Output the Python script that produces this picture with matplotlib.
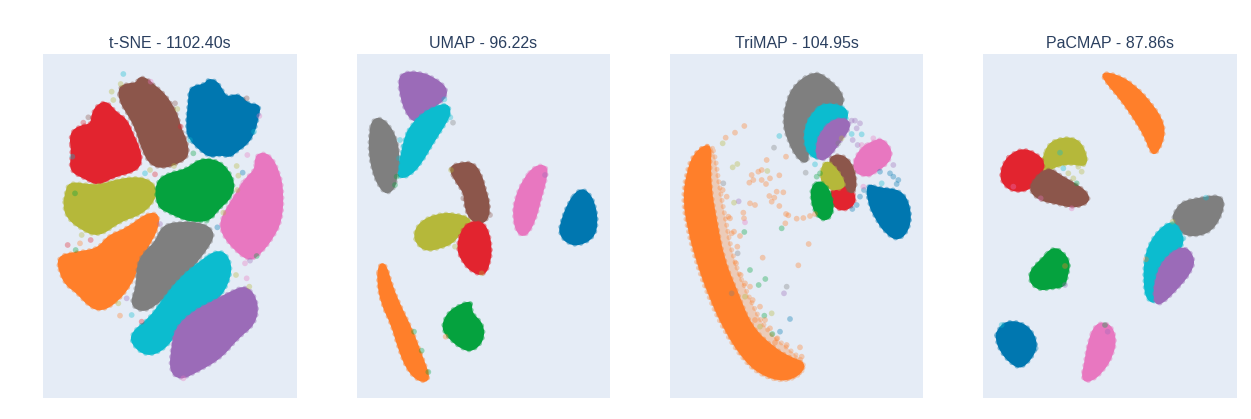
import matplotlib
matplotlib.use("Agg")
import matplotlib.pyplot as plt
from matplotlib.path import Path
from matplotlib.patches import PathPatch

W, H = 1251, 419
BG = "#E5ECF6"
TITLE = "#2a3f5f"
BLUE, ORANGE, GREEN, RED, PURPLE = "#0077b0", "#ff7f2a", "#05a23e", "#e2242f", "#9b6bb8"
BROWN, PINK, GRAY, OLIVE, CYAN = "#8c564b", "#e877c0", "#7f7f7f", "#b5b83a", "#0cbccf"

titles = ["t-SNE - 1102.40s", "UMAP - 96.22s", "TriMAP - 104.95s", "PaCMAP - 87.86s"]

# Cluster outlines
tsne_blue = [(470,290),(478,215),(480,172),(525,165),(535,148),(560,155),(575,180),(590,205),(625,192),(655,225),(690,225),(682,265),(672,305),(652,340),(620,362),(600,380),(570,372),(540,380),(510,358),(478,325)]
tsne_brown = [(268,172),(295,162),(320,162),(328,142),(352,148),(372,168),(398,188),(425,225),(442,260),(452,300),(468,330),(475,378),(445,398),(400,413),(362,403),(338,358),(318,292),(292,247),(270,212)]
tsne_red = [(120,312),(150,288),(185,285),(188,248),(208,222),(232,217),(258,250),(288,268),(308,315),(328,358),(334,398),(312,424),(250,438),(205,465),(165,444),(120,422),(128,370)]
tsne_olive = [(108,490),(118,458),(170,465),(210,468),(270,448),(340,443),(378,470),(372,512),(332,552),(270,572),(205,620),(150,594),(112,562),(102,525)]
tsne_green = [(378,460),(410,433),(470,420),(510,388),(560,392),(592,418),(612,460),(603,502),(562,538),(540,570),(480,574),(420,548),(382,528)]
tsne_pink = [(678,372),(718,372),(748,430),(758,490),(753,572),(728,622),(692,668),(660,692),(618,662),(577,612),(572,570),(608,510),(648,445),(678,420)]
tsne_orange = [(82,680),(140,668),(205,658),(235,618),(290,598),(350,552),(386,552),(381,600),(347,657),(322,712),(302,762),(262,813),(215,842),(178,828),(138,783),(112,767),(92,732)]
tsne_gray = [(398,588),(450,577),(522,582),(553,610),(533,652),(492,702),(462,748),(422,783),(372,828),(335,844),(302,822),(322,770),(322,710),(342,668),(378,638)]
tsne_cyan = [(570,656),(604,698),(594,762),(553,818),(492,863),(442,903),(402,958),(350,978),(306,942),(306,908),(358,868),(398,813),(448,748),(508,698)]
tsne_purple = [(602,787),(652,767),(684,820),(674,882),(622,923),(572,983),(502,1023),(450,1048),(421,1022),(426,960),(436,898),(488,847),(548,817)]

umap_purple = [(162,148),(178,128),(222,128),(262,142),(306,175),(298,207),(267,228),(232,268),(205,274),(182,242),(169,200)]
umap_cyan = [(203,283),(233,252),(270,232),(307,222),(316,250),(293,292),(263,337),(228,398),(197,433),(168,444),(156,427),(172,370),(182,318)]
umap_gray = [(83,272),(105,264),(133,288),(154,330),(161,380),(154,432),(149,472),(125,492),(102,467),(84,422),(74,365),(76,308)]
umap_brown = [(312,413),(345,400),(385,399),(409,438),(419,478),(432,520),(429,562),(412,579),(383,574),(361,537),(361,492),(336,457)]
umap_olive = [(208,610),(228,576),(275,554),(327,551),(384,570),(348,603),(323,638),(282,654),(245,661),(217,643)]
umap_red = [(357,587),(395,574),(423,587),(439,650),(432,702),(417,735),(383,726),(352,693),(336,650)]
umap_pink = [(572,408),(604,408),(604,442),(584,512),(569,572),(542,619),(517,608),(506,560),(511,508),(537,448)]
umap_blue = [(703,478),(728,486),(749,523),(756,582),(744,623),(702,645),(668,639),(646,613),(646,588),(671,518)]
umap_orange = [(104,702),(122,704),(139,768),(169,838),(199,898),(229,978),(256,1050),(223,1054),(187,1018),(161,952),(141,882),(111,822),(98,750)]
umap_green = [(343,826),(380,815),(376,848),(414,883),(414,932),(382,962),(353,956),(317,928),(291,895),(307,852)]

trimap_gray = [(465,125),(503,147),(545,188),(550,228),(500,244),(467,268),(444,312),(444,372),(440,400),(412,383),(386,332),(371,280),(381,213),(407,162)]
trimap_cyan = [(488,221),(559,231),(562,272),(522,299),(503,333),(482,390),(447,373),(433,330),(441,278),(462,248)]
trimap_purple = [(518,271),(558,266),(572,290),(533,343),(503,384),(472,390),(471,338),(487,303)]
trimap_pink = [(640,336),(667,326),(696,365),(684,398),(647,424),(625,439),(587,428),(581,395),(607,352)]
trimap_red = [(512,477),(556,466),(586,495),(579,528),(545,542),(517,523)]
trimap_brown = [(507,382),(547,374),(579,408),(589,470),(573,494),(549,453),(518,423)]
trimap_olive = [(492,393),(521,406),(559,466),(531,479),(503,474),(481,446)]
trimap_green = [(479,454),(503,472),(519,520),(514,558),(490,572),(465,548),(454,500),(458,468)]
trimap_blue = [(622,461),(652,476),(723,481),(749,530),(749,592),(716,632),(678,609),(647,563),(626,517)]
trimap_orange = [(150,340),(105,368),(82,430),(72,510),(87,600),(112,692),(147,792),(197,903),(257,993),(308,1034),(370,1052),(418,1034),(436,1000),(392,985),(340,955),(272,890),(232,790),(190,690),(165,560),(150,470),(150,390)]
trimap_orange_halo = [(150,340),(100,372),(78,430),(68,510),(83,600),(108,695),(143,795),(193,906),(255,996),(306,1037),(370,1054),(420,1036),(438,998),(370,945),(310,890),(262,790),(220,690),(195,560),(175,450),(165,370)]

pacmap_orange = [(394,128),(442,136),(493,167),(544,222),(580,278),(580,328),(556,374),(542,362),(526,318),(486,253),(446,198),(411,158)]
pacmap_olive = [(237,342),(275,324),(322,328),(347,368),(349,408),(310,399),(266,404),(236,419),(203,445),(221,383)]
pacmap_red = [(128,371),(160,358),(197,371),(224,398),(209,442),(177,479),(129,484),(96,457),(94,424),(106,393)]
pacmap_brown = [(207,432),(240,416),(267,436),(323,467),(354,493),(354,518),(311,532),(259,519),(208,509),(176,477)]
pacmap_gray = [(638,516),(690,506),(752,496),(762,530),(733,593),(691,616),(638,614),(608,566),(617,543)]
pacmap_cyan = [(598,576),(623,587),(644,640),(603,683),(578,748),(560,819),(532,809),(523,760),(526,678),(552,618)]
pacmap_purple = [(642,646),(672,684),(664,722),(623,773),(570,825),(552,812),(557,748),(582,688)]
pacmap_green = [(248,653),(278,666),(299,700),(289,742),(283,769),(240,774),(209,779),(181,757),(181,723),(218,687)]
pacmap_blue = [(82,903),(110,874),(162,881),(194,918),(199,962),(156,1016),(123,999),(92,963),(79,925)]
pacmap_pink = [(378,881),(417,881),(436,920),(429,972),(398,1024),(361,1054),(336,1049),(346,998),(356,938)]

# Individually visible stray points
tsne_strays = [(280,132,CYAN),(272,162,OLIVE),(245,185,OLIVE),(250,210,OLIVE),(362,155,PINK),(435,220,BROWN),(442,237,OLIVE),(452,290,RED),(650,205,BROWN),(688,258,PINK),(672,305,CYAN),(480,330,CYAN),(127,380,CYAN),(160,278,RED),(175,262,BROWN),(345,430,CYAN),(375,433,RED),(360,420,OLIVE),(432,408,OLIVE),(490,370,GREEN),(620,408,OLIVE),(638,428,BLUE),(625,437,OLIVE),(640,458,PINK),(622,480,OLIVE),(652,375,PINK),(660,692,PURPLE),(680,678,GREEN),(645,700,PINK),(113,645,RED),(137,660,GREEN),(150,640,ORANGE),(182,630,RED),(155,615,OLIVE),(270,857,ORANGE),(305,855,CYAN),(290,805,PURPLE),(265,820,OLIVE),(335,875,RED),(618,735,OLIVE),(650,745,PINK),(658,770,OLIVE),(562,592,BLUE),(580,548,OLIVE),(530,572,GREEN),(390,582,PURPLE),(460,1045,PINK),(302,748,ORANGE),(135,490,GREEN)]
umap_strays = [(324,278,GRAY),(316,262,CYAN),(298,208,CYAN),(165,330,CYAN),(175,350,CYAN),(162,385,CYAN),(155,440,GREEN),(150,465,GREEN),(355,505,BROWN),(435,555,BROWN),(600,435,PURPLE),(375,822,GREEN),(207,905,GREEN),(250,1026,GREEN),(302,920,ORANGE),(230,962,GREEN),(318,420,OLIVE),(410,730,OLIVE),(330,650,OLIVE)]
trimap_strays = [(253,288,ORANGE),(225,308,ORANGE),(197,323,ORANGE),(188,340,OLIVE),(358,318,CYAN),(342,353,GRAY),(378,380,ORANGE),(320,390,ORANGE),(232,402,OLIVE),(218,412,OLIVE),(322,423,OLIVE),(305,420,ORANGE),(358,436,ORANGE),(275,435,ORANGE),(295,425,ORANGE),(268,458,ORANGE),(280,450,ORANGE),(305,450,ORANGE),(330,445,ORANGE),(318,462,ORANGE),(350,485,ORANGE),(328,498,ORANGE),(343,503,ORANGE),(370,487,ORANGE),(358,528,ORANGE),(335,515,ORANGE),(270,520,ORANGE),(285,525,ORANGE),(236,514,PURPLE),(222,518,OLIVE),(250,548,ORANGE),(252,565,ORANGE),(210,565,ORANGE),(255,577,PINK),(378,552,ORANGE),(385,556,ORANGE),(410,566,ORANGE),(430,564,ORANGE),(450,558,ORANGE),(465,552,ORANGE),(376,580,ORANGE),(365,595,GREEN),(253,606,GREEN),(222,605,ORANGE),(240,618,ORANGE),(446,642,ORANGE),(233,670,GRAY),(308,683,ORANGE),(415,706,ORANGE),(270,720,GREEN),(316,747,GREEN),(296,765,GREEN),(380,770,GRAY),(372,790,PURPLE),(313,857,GREEN),(335,850,OLIVE),(390,867,BLUE),(360,905,BLUE),(337,912,GREEN),(345,938,ORANGE),(380,945,ORANGE),(420,952,ORANGE),(425,980,ORANGE),(285,870,ORANGE),(300,890,OLIVE),(255,800,OLIVE),(215,790,GRAY),(190,460,GRAY),(188,480,ORANGE),(200,500,ORANGE),(205,560,ORANGE),(215,610,ORANGE),(232,650,ORANGE),(228,700,ORANGE),(242,735,ORANGE),(270,770,ORANGE),(255,760,ORANGE),(278,810,ORANGE),(300,830,ORANGE),(315,870,ORANGE),(330,895,ORANGE),(352,925,ORANGE),(575,272,PURPLE),(585,272,PURPLE),(600,280,PURPLE),(590,295,PURPLE),(605,313,CYAN),(575,312,CYAN),(578,330,PURPLE),(593,345,PURPLE),(640,325,PINK),(605,345,PINK),(700,405,PURPLE),(690,430,BLUE),(700,440,BLUE),(660,425,BLUE),(715,450,BLUE),(710,462,BLUE),(665,460,CYAN),(612,480,BLUE),(600,500,BLUE),(590,525,BLUE),(577,537,BLUE),(610,470,PINK),(465,403,CYAN),(437,428,GRAY),(480,430,GREEN),(470,440,GREEN),(535,340,GRAY),(545,325,OLIVE)]
pacmap_strays = [(270,368,CYAN),(280,415,CYAN),(295,430,OLIVE),(310,445,OLIVE),(335,425,OLIVE),(325,410,OLIVE),(305,535,PINK),(320,460,GREEN),(708,503,CYAN),(608,575,OLIVE),(640,625,CYAN),(528,688,ORANGE),(285,708,ORANGE),(285,765,PURPLE),(197,955,BLUE),(95,885,CYAN),(405,885,GREEN),(413,905,PURPLE),(343,1030,PINK),(130,470,PINK),(212,505,PINK)]

panels = [
    ((43, 297), (39, 801), [tsne_blue, tsne_brown, tsne_red, tsne_olive, tsne_green, tsne_pink, tsne_orange, tsne_gray, tsne_cyan, tsne_purple],
     [BLUE, BROWN, RED, OLIVE, GREEN, PINK, ORANGE, GRAY, CYAN, PURPLE], tsne_strays, []),
    ((357, 610), (36, 795), [umap_purple, umap_cyan, umap_gray, umap_brown, umap_olive, umap_red, umap_pink, umap_blue, umap_orange, umap_green],
     [PURPLE, CYAN, GRAY, BROWN, OLIVE, RED, PINK, BLUE, ORANGE, GREEN], umap_strays, []),
    ((670, 923), (30, 789), [trimap_gray, trimap_cyan, trimap_purple, trimap_pink, trimap_red, trimap_brown, trimap_olive, trimap_green, trimap_blue, trimap_orange],
     [GRAY, CYAN, PURPLE, PINK, RED, BROWN, OLIVE, GREEN, BLUE, ORANGE], trimap_strays, [(trimap_orange_halo, ORANGE)]),
    ((983, 1237), (39, 801), [pacmap_orange, pacmap_olive, pacmap_red, pacmap_brown, pacmap_gray, pacmap_cyan, pacmap_purple, pacmap_green, pacmap_blue, pacmap_pink],
     [ORANGE, OLIVE, RED, BROWN, GRAY, CYAN, PURPLE, GREEN, BLUE, PINK], pacmap_strays, []),
]


def smooth_path(pts):
    """Closed quadratic spline through the midpoints of the outline edges."""
    n = len(pts)
    mid = [((pts[i][0] + pts[(i + 1) % n][0]) / 2, (pts[i][1] + pts[(i + 1) % n][1]) / 2) for i in range(n)]
    verts = [mid[-1]]
    codes = [Path.MOVETO]
    for i in range(n):
        verts += [pts[i], mid[i]]
        codes += [Path.CURVE3, Path.CURVE3]
    return Path(verts, codes)


fig = plt.figure(figsize=(W / 100, H / 100), dpi=100, facecolor="white")
TOP, BOTTOM = 54, 398
for title, ((px0, px1), xlim, outlines, colors, strays, halos) in zip(titles, panels):
    ax = fig.add_axes([px0 / W, 1 - BOTTOM / H, (px1 - px0) / W, (BOTTOM - TOP) / H])
    ax.set_facecolor(BG)
    ax.set_xlim(*xlim)
    ax.set_ylim(1104, 72)
    ax.set_xticks([]); ax.set_yticks([])
    for s in ax.spines.values():
        s.set_visible(False)
    for pts, col in halos:
        ax.add_patch(PathPatch(smooth_path(pts), facecolor=col, edgecolor=col, linewidth=3.6, alpha=0.3,
                               linestyle=(0, (0.01, 1.25)), capstyle="round", zorder=1.5))
    for z, (pts, col) in enumerate(zip(outlines, colors)):
        path = smooth_path(pts)
        # soft scalloped rim of round dots, then the solid body
        ax.add_patch(PathPatch(path, facecolor="none", edgecolor=col, linewidth=3.6, alpha=0.45,
                               linestyle=(0, (0.01, 1.25)), capstyle="round", zorder=2 + z * 0.01))
        ax.add_patch(PathPatch(path, facecolor=col, edgecolor=col, linewidth=1.6, alpha=1.0,
                               joinstyle="round", zorder=2.005 + z * 0.01))
    sx, sy, sc = zip(*strays)
    ax.scatter(sx, sy, s=17, c=list(sc), alpha=0.35, linewidths=0, zorder=4)
    fig.text((px0 + px1) / 2 / W, 1 - 43 / H, title, ha="center", va="center",
             fontsize=11.5, color=TITLE, family="Liberation Sans")

fig.savefig("out.png", dpi=100)
